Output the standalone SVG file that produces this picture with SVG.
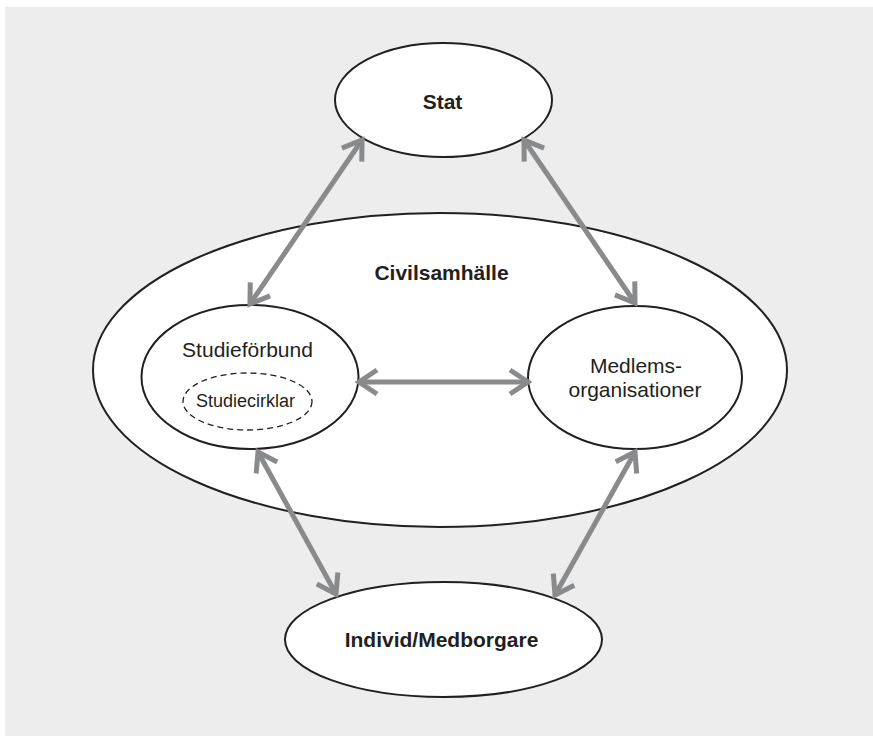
<svg xmlns="http://www.w3.org/2000/svg" width="873" height="736" viewBox="0 0 873 736">
<style>
.node{fill:#ffffff;stroke:#231f20;stroke-width:2}
.dash{fill:none;stroke:#231f20;stroke-width:1.3;stroke-dasharray:6 4}
.lbl{font-family:"Liberation Sans",Arial,sans-serif;fill:#231f20;text-anchor:middle}
.b{font-weight:bold;font-size:21px}
.r{font-size:21px}
.s{font-size:18px}
.conn{stroke:#898a8c;stroke-width:5;fill:none;marker-start:url(#ah);marker-end:url(#ah)}
</style>
<defs>
<marker id="ah" markerUnits="userSpaceOnUse" orient="auto-start-reverse" viewBox="-26 -18 32 36" markerWidth="32" markerHeight="36" refX="0" refY="0">
<path d="M-18,-12 L0,0 L-18,12" fill="none" stroke="#898a8c" stroke-width="5" stroke-linejoin="miter"/>
</marker>
</defs>
<rect x="5" y="7" width="868" height="729" fill="#ededed"/>
<g id="civilsamhalle">
<ellipse class="node" cx="440" cy="370" rx="347" ry="157"/>
<text class="lbl b" x="441.5" y="280">Civilsamhälle</text>
</g>
<g id="stat">
<ellipse class="node" cx="443.5" cy="100" rx="108.5" ry="57"/>
<text class="lbl b" x="442.5" y="109">Stat</text>
</g>
<g id="studieforbund">
<ellipse class="node" cx="250" cy="377" rx="108.5" ry="72"/>
<text class="lbl r" x="247.5" y="357">Studieförbund</text>
</g>
<g id="studiecirklar">
<ellipse class="dash" cx="247.5" cy="401.5" rx="64.5" ry="28.5"/>
<text class="lbl s" x="245.5" y="407">Studiecirklar</text>
</g>
<g id="medlemsorganisationer">
<ellipse class="node" cx="635" cy="377.5" rx="107" ry="71.5"/>
<text class="lbl r" x="636" y="373">Medlems-</text>
<text class="lbl r" x="635" y="397">organisationer</text>
</g>
<g id="individ">
<ellipse class="node" cx="443.5" cy="639.5" rx="158.5" ry="57.5"/>
<text class="lbl b" x="441.5" y="647">Individ/Medborgare</text>
</g>
<g id="connectors">
<line class="conn" x1="362" y1="140" x2="250" y2="304"/>
<line class="conn" x1="524" y1="140" x2="635" y2="303"/>
<line class="conn" x1="359" y1="382" x2="528" y2="382"/>
<line class="conn" x1="258" y1="452" x2="336" y2="594"/>
<line class="conn" x1="635" y1="452" x2="555" y2="595"/>
</g>
</svg>
